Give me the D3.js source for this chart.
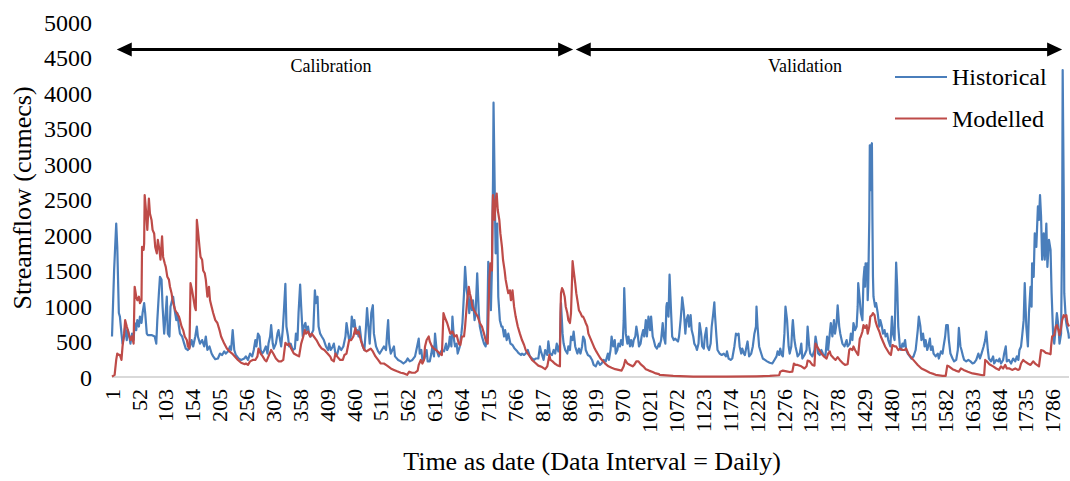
<!DOCTYPE html>
<html>
<head>
<meta charset="utf-8">
<script src="https://cdn.jsdelivr.net/npm/d3@7"></script>
<style>
  html, body { margin: 0; padding: 0; background: #ffffff; }
  svg { display: block; }
  svg text { font-family: "Liberation Serif", "Times New Roman", serif !important; fill: #000000; }
</style>
</head>
<body>
<svg id="chart" width="1070" height="481"></svg>
<script>
// Daily streamflow (cumecs): [day, flow]
const historical = [
  [1,570],[5,1500],[9,2160],[11,1830],[14,900],[16,850],[19,610],[21,470],[24,570],[26,710],[29,520],[31,660],[34,570],[36,470],[39,610],[42,520],[44,760],[47,660],[49,800],[52,710],[54,850],[57,760],[59,900],[62,1040],[64,900],[67,610],[69,590],[76,590],[82,570],[85,470],[87,800],[90,1180],[92,1410],[95,1370],[97,990],[100,610],[102,800],[105,1130],[107,610],[110,570],[112,990],[115,1080],[117,1130],[120,940],[123,800],[125,900],[128,710],[130,610],[134,570],[138,470],[141,400],[145,380],[149,430],[152,520],[155,430],[159,570],[162,710],[164,570],[168,470],[172,520],[176,430],[179,570],[182,380],[186,430],[190,330],[193,290],[197,250],[202,260],[206,330],[210,310],[214,360],[217,330],[221,360],[225,430],[227,380],[230,660],[233,380],[236,310],[241,260],[246,240],[252,260],
  [255,290],[259,240],[263,330],[267,290],[270,380],[273,520],[275,430],[278,610],[281,570],[283,380],[286,330],[289,360],[293,430],[296,330],[298,470],[301,570],[303,730],[306,470],[308,400],[312,470],[315,610],[317,660],[320,520],[322,430],[325,660],[327,900],[330,1310],[332,710],[335,570],[337,430],[340,470],[344,380],[348,400],[350,610],[353,520],[355,900],[358,1300],[360,990],[363,570],[365,710],[368,760],[370,660],[373,710],[375,610],[378,570],[380,610],[383,660],[386,1220],[388,1040],[391,1130],[393,710],[396,610],[399,570],[403,520],[407,430],[411,380],[413,470],[416,380],[420,430],[422,470],[425,330],[428,310],[432,430],[436,380],[440,430],[444,570],[446,760],[449,610],[451,520],[454,570],[456,850],[459,710],[461,800],[464,610],[466,660],[469,570],[471,710],[474,520],[477,430],[480,380],[483,710],[485,970],[488,660],[490,470],[493,900],[496,1010],[498,610],[502,430],[506,360],[509,330],[513,380],
  [517,430],[521,380],[523,610],[525,800],[527,470],[530,330],[533,380],[536,430],[538,290],[544,240],[549,220],[554,190],[559,220],[562,260],[566,220],[571,240],[576,290],[580,430],[583,540],[585,330],[588,380],[590,240],[594,260],[598,380],[600,220],[604,220],[607,330],[609,430],[612,290],[614,610],[617,380],[621,290],[623,330],[627,380],[631,360],[635,470],[637,380],[640,430],[642,570],[645,430],[647,850],[650,520],[652,430],[655,470],[657,330],[661,430],[664,610],[666,760],[669,1180],[671,1550],[674,1220],[676,1130],[679,900],[681,1130],[684,940],[686,1080],[689,800],[691,900],[694,1460],[697,900],[699,710],[703,570],[707,470],[710,430],[713,610],[715,1620],[718,1460],[720,940],[722,1550],[724,2770],[725,3860],[727,2770],[728,2210],[729,1740],[732,2160],[734,1130],[737,800],[740,710],[742,710],[745,570],[747,660],[750,520],[753,610],[757,470],[761,450],[765,400],[769,370],[772,340],[777,310],
  [779,330],[783,310],[786,330],[790,380],[794,290],[798,260],[802,240],[805,260],[810,260],[813,430],[815,360],[818,290],[820,240],[823,380],[827,310],[829,500],[832,330],[836,310],[839,380],[842,330],[845,470],[848,360],[851,470],[853,1040],[856,610],[858,470],[861,380],[865,330],[867,430],[870,380],[872,570],[875,520],[877,640],[880,430],[884,330],[887,400],[890,330],[893,430],[895,570],[898,520],[900,380],[904,310],[908,290],[912,240],[915,170],[919,150],[923,220],[927,170],[930,190],[934,240],[938,220],[942,330],[944,240],[947,380],[949,570],[952,430],[955,520],[957,330],[960,380],[962,470],[965,430],[967,520],[970,450],[972,800],[973,1250],[976,610],[979,470],[981,570],[984,430],[986,520],[989,430],[991,520],[994,570],[996,710],[999,570],[1001,430],[1004,470],[1006,570],[1009,660],[1011,570],[1014,800],[1016,570],[1019,850],[1022,660],[1024,850],[1027,570],[1029,520],[1032,430],[1035,400],[1039,470],
  [1040,430],[1043,520],[1046,760],[1048,570],[1051,470],[1053,990],[1054,1040],[1057,850],[1059,1440],[1062,900],[1064,570],[1067,520],[1070,540],[1072,520],[1075,500],[1077,570],[1080,800],[1082,990],[1083,1120],[1086,940],[1089,610],[1091,800],[1094,870],[1096,710],[1099,870],[1101,660],[1104,570],[1106,470],[1109,430],[1111,380],[1114,470],[1116,760],[1119,610],[1121,430],[1124,400],[1126,570],[1129,690],[1131,430],[1134,380],[1137,470],[1139,710],[1142,900],[1144,1050],[1145,900],[1148,570],[1150,380],[1154,330],[1158,310],[1162,330],[1166,290],[1168,360],[1171,260],[1175,240],[1178,260],[1182,430],[1185,610],[1187,590],[1190,610],[1192,430],[1195,330],[1197,400],[1200,330],[1202,310],[1205,430],[1207,500],[1210,290],[1214,330],[1217,430],[1220,610],[1223,710],[1224,990],[1226,710],[1229,430],[1233,330],[1236,260],[1240,240],[1244,220],[1249,200],[1254,190],[1258,240],[1262,290],[1264,360],[1267,310],[1269,400],[1272,310],[1274,290],[1277,610],[1279,990],[1282,800],[1285,430],[1287,330],[1290,430],[1292,710],[1293,800],[1296,520],[1298,430],[1301,330],
  [1302,290],[1306,330],[1309,470],[1311,260],[1315,310],[1319,380],[1321,710],[1324,430],[1326,330],[1330,290],[1334,380],[1336,570],[1339,430],[1341,330],[1344,310],[1347,380],[1350,330],[1353,290],[1355,310],[1358,570],[1360,380],[1363,610],[1365,760],[1368,570],[1371,800],[1373,610],[1376,760],[1378,1010],[1381,710],[1383,610],[1387,470],[1391,430],[1395,520],[1397,430],[1401,470],[1403,610],[1406,520],[1408,760],[1411,660],[1414,710],[1416,990],[1417,1320],[1420,1080],[1422,900],[1425,800],[1427,1370],[1429,1550],[1430,1270],[1431,1600],[1433,1410],[1434,1600],[1435,1080],[1436,1270],[1438,2210],[1439,3260],[1440,2630],[1441,3240],[1443,3290],[1444,2210],[1445,1410],[1446,1130],[1449,990],[1451,1040],[1454,900],[1457,710],[1459,800],[1462,710],[1464,610],[1467,660],[1469,570],[1472,610],[1474,520],[1478,430],[1481,850],[1483,610],[1486,520],[1488,1270],[1489,1610],[1491,1270],[1493,710],[1496,430],[1498,380],[1501,470],[1503,430],[1506,520],[1508,380],[1511,330],[1515,290],[1518,260],[1522,290],[1526,380],[1530,660],[1532,850],[1535,710],[1537,520],[1540,610],[1543,430],[1545,520],[1548,380],[1550,430],[1553,540],[1555,380],[1558,430],[1560,330],
  [1564,290],[1568,330],[1570,260],[1574,360],[1577,330],[1579,430],[1582,570],[1584,730],[1587,730],[1589,520],[1592,330],[1596,260],[1599,220],[1603,240],[1606,380],[1608,690],[1611,430],[1613,380],[1616,290],[1618,240],[1622,220],[1626,240],[1630,220],[1634,190],[1637,200],[1641,240],[1645,330],[1648,260],[1651,330],[1655,430],[1658,520],[1660,640],[1663,380],[1665,260],[1669,220],[1673,290],[1675,190],[1679,240],[1683,220],[1685,260],[1688,190],[1692,240],[1694,330],[1697,430],[1699,220],[1703,240],[1707,190],[1711,260],[1715,220],[1718,290],[1721,240],[1723,380],[1726,430],[1728,570],[1731,800],[1733,1320],[1736,710],[1739,430],[1741,900],[1744,1270],[1746,990],[1747,1600],[1750,1410],[1752,2020],[1755,1830],[1758,2400],[1760,2210],[1762,2560],[1764,2260],[1766,1650],[1769,2020],[1771,1650],[1774,2160],[1776,1550],[1779,1930],[1782,1790],[1784,1180],[1787,570],[1789,470],[1792,710],[1794,900],[1797,710],[1799,470],[1802,610],[1804,2120],[1805,4320],[1807,2580],[1808,1180],[1811,800],[1813,710],[1816,610],[1817,540]
];

const modelled = [
  [1,5],[6,30],[9,240],[11,330],[14,310],[16,310],[19,240],[21,430],[24,610],[26,800],[29,710],[31,660],[34,570],[36,520],[39,570],[42,470],[44,1270],[47,1130],[49,1080],[52,1130],[54,1040],[57,1080],[58,1830],[61,1790],[62,1880],[63,2560],[66,2300],[68,2070],[71,2510],[73,2300],[76,2210],[78,2070],[81,2020],[83,1830],[86,1740],[88,1930],[91,1790],[93,1650],[96,1980],[98,1690],[101,1600],[103,1550],[106,1410],[109,1370],[111,1270],[114,1180],[116,1080],[119,990],[121,940],[124,900],[128,850],[130,800],[133,710],[136,660],[139,570],[143,520],[145,430],[148,400],[150,1320],[153,1220],[155,1130],[158,990],[160,940],[162,2210],[164,2070],[167,1830],[169,1690],[172,1650],[174,1500],[177,1460],[179,1370],[182,1130],[185,1270],[187,1080],[190,990],[193,900],[197,800],[201,760],[205,660],[208,570],[214,470],[219,400],[224,360],[229,330],[234,290],[240,240],[246,200],[253,180],
  [255,190],[259,170],[263,220],[268,240],[273,240],[277,290],[279,400],[283,330],[287,290],[291,240],[294,220],[298,290],[303,380],[307,330],[312,260],[317,220],[322,220],[326,240],[330,480],[334,450],[337,470],[341,400],[346,330],[351,310],[356,290],[360,470],[364,570],[367,660],[369,610],[373,640],[377,570],[380,610],[384,570],[389,520],[394,450],[399,400],[404,380],[410,330],[415,290],[418,240],[422,220],[425,330],[428,290],[434,240],[439,240],[442,310],[446,330],[451,520],[455,520],[459,570],[463,690],[465,610],[469,640],[473,520],[477,430],[480,380],[484,360],[488,380],[492,400],[496,360],[501,290],[506,240],[511,190],
  [517,190],[523,160],[530,120],[536,100],[542,80],[549,60],[555,50],[561,30],[565,75],[570,60],[576,60],[581,90],[583,170],[587,240],[590,190],[593,240],[595,430],[598,520],[602,570],[604,500],[608,430],[612,400],[616,380],[619,360],[623,330],[627,310],[630,900],[633,830],[637,760],[641,660],[643,610],[647,640],[651,570],[655,590],[659,470],[662,450],[665,570],[669,570],[671,710],[675,1080],[678,1270],[680,1180],[683,1080],[685,990],[688,940],[691,900],[695,850],[699,760],[703,710],[707,610],[710,520],[714,470],[717,1370],[719,1600],[722,1500],[723,2300],[724,2560],[727,2210],[729,2490],[731,2580],[733,2350],[736,2210],[738,2020],[741,1830],[743,1650],[746,1500],[748,1370],[751,1250],[753,1180],[756,1220],[758,1080],[761,1220],[764,990],[767,850],[771,710],[775,610],
  [779,520],[783,450],[786,380],[790,330],[794,290],[798,240],[804,200],[810,160],[817,140],[823,110],[827,150],[831,310],[833,240],[837,220],[841,190],[845,170],[848,160],[851,150],[852,900],[853,1180],[855,1250],[857,1220],[860,1130],[862,990],[865,900],[867,800],[870,760],[872,900],[874,1370],[875,1630],[877,1500],[880,1320],[882,1180],[885,1040],[887,940],[890,900],[893,850],[895,850],[898,800],[900,760],[903,710],[905,610],[909,540],[913,470],[917,400],[920,360],[924,310],[928,260],[933,220],[938,180],[943,150],[949,130],[956,110],[962,100],[968,90],[972,150],[975,240],[979,190],[984,170],[989,150],[992,170],[996,220],[1000,220],[1004,180],[1009,150],[1014,110],[1020,90],[1027,70],[1033,50],[1039,40],
  [1040,30],[1066,15],[1104,5],[1167,5],[1224,10],[1249,15],[1267,25],[1269,75],[1274,90],[1281,80],[1287,70],[1292,75],[1295,190],[1298,170],
  [1302,170],[1309,150],[1315,120],[1319,150],[1321,230],[1325,220],[1330,170],[1334,160],[1336,470],[1339,430],[1343,380],[1347,330],[1352,290],[1357,260],[1360,330],[1363,360],[1365,310],[1371,260],[1374,240],[1378,280],[1382,240],[1387,200],[1392,170],[1397,180],[1400,380],[1402,400],[1406,380],[1408,430],[1411,380],[1415,330],[1417,310],[1420,540],[1422,570],[1425,640],[1427,730],[1430,690],[1433,730],[1435,610],[1438,710],[1440,850],[1443,870],[1445,900],[1448,870],[1450,780],[1453,710],[1457,640],[1460,570],[1464,500],[1468,430],[1472,380],[1476,330],[1479,310],[1482,450],[1486,430],[1489,430],[1493,380],[1497,400],[1501,380],[1505,380],[1508,400],[1512,330],[1517,280],[1524,220],[1530,170],[1537,120],[1545,90],[1553,60],[1561,40],
  [1564,30],[1577,15],[1583,15],[1586,160],[1589,150],[1596,110],[1602,90],[1608,75],[1612,120],[1617,100],[1625,75],[1634,50],[1642,40],[1653,25],[1656,25],[1658,240],[1661,220],[1666,180],[1673,150],[1679,120],[1684,100],[1688,150],[1692,120],[1696,170],[1699,120],[1704,120],[1709,100],[1715,120],[1720,100],[1723,110],[1726,190],[1730,240],[1733,220],[1739,190],[1744,170],[1749,220],[1754,180],[1760,150],[1764,380],[1768,370],[1773,340],[1778,330],[1782,320],[1783,430],[1785,570],[1789,590],[1792,710],[1794,730],[1797,660],[1799,590],[1802,690],[1804,800],[1807,870],[1809,850],[1812,870],[1814,760],[1817,710]
];

const dayTicks = [1,52,103,154,205,256,307,358,409,460,511,562,613,664,715,766,817,868,919,970,1021,1072,1123,1174,1225,1276,1327,1378,1429,1480,1531,1582,1633,1684,1735,1786];
const flowTicks = [0,500,1000,1500,2000,2500,3000,3500,4000,4500,5000];
const seriesNames = ["Historical", "Modelled"];
const periodNames = ["Calibration", "Validation"];
const periodStart = [10, 881];
const periodEnd = [876, 1804];
const lastDay = 1817;

const colors = ["#4A7EBB", "#BE4B48"];
const svg = d3.select("#chart");

svg.append("rect").attr("width", 1070).attr("height", 481).attr("fill", "#ffffff");

const x = d3.scaleLinear().domain([1, lastDay]).range([112, 1069]);
const y = d3.scaleLinear().domain([0, 5000]).range([377, 21.7]);

// value axis labels (no axis line)
const yAxis = d3.axisLeft(y).tickValues(flowTicks).tickSize(0).tickPadding(0).tickFormat(d3.format("d"));
const gy = svg.append("g").attr("transform", "translate(92,0)").call(yAxis);
gy.attr("font-family", null).attr("font-size", null);
gy.select(".domain").remove();
gy.selectAll("text").style("font-size", "24px").attr("dy", "0.35em");

// category axis line
svg.append("line")
  .attr("x1", x(1)).attr("x2", x(lastDay))
  .attr("y1", y(0)).attr("y2", y(0))
  .attr("stroke", "#d9d9d9").attr("stroke-width", 2);

// rotated day labels
svg.append("g").selectAll("text").data(dayTicks).join("text")
  .attr("transform", d => `translate(${x(d)},389) rotate(-90)`)
  .attr("text-anchor", "end").attr("dy", "0.35em")
  .style("font-size", "22px")
  .text(d => d);

// series lines
const line = d3.line().x(d => x(d[0])).y(d => y(d[1]));
[historical, modelled].forEach((s, i) => {
  svg.append("path").datum(s)
    .attr("d", line).attr("fill", "none")
    .attr("stroke", colors[i]).attr("stroke-width", 2.2)
    .attr("stroke-linejoin", "round");
});

// period arrows
const arrowY = 49.5, headLen = 15, headHalf = 7;
periodNames.forEach((name, i) => {
  const x0 = x(periodStart[i]), x1 = x(periodEnd[i]);
  const g = svg.append("g");
  g.append("line").attr("x1", x0 + headLen - 1).attr("x2", x1 - headLen + 1)
    .attr("y1", arrowY).attr("y2", arrowY).attr("stroke", "#000").attr("stroke-width", 3);
  g.append("path").attr("fill", "#000")
    .attr("d", `M${x0},${arrowY}L${x0 + headLen},${arrowY - headHalf}L${x0 + headLen},${arrowY + headHalf}Z`);
  g.append("path").attr("fill", "#000")
    .attr("d", `M${x1},${arrowY}L${x1 - headLen},${arrowY - headHalf}L${x1 - headLen},${arrowY + headHalf}Z`);
  g.append("text").attr("x", (x0 + x1) / 2 - 14).attr("y", 72)
    .attr("text-anchor", "middle").style("font-size", "18px")
    .text(name);
});

// legend
const legendRows = [77, 118.5];
seriesNames.forEach((name, i) => {
  svg.append("line").attr("x1", 895).attr("x2", 947)
    .attr("y1", legendRows[i]).attr("y2", legendRows[i])
    .attr("stroke", colors[i]).attr("stroke-width", 2.2);
  svg.append("text").attr("x", 952).attr("y", legendRows[i] + 8)
    .style("font-size", "24px").text(name);
});

// axis titles
svg.append("text")
  .attr("transform", "translate(31,198) rotate(-90)")
  .attr("text-anchor", "middle").style("font-size", "26px")
  .text("Streamflow (cumecs)");
svg.append("text")
  .attr("x", 592).attr("y", 470)
  .attr("text-anchor", "middle").style("font-size", "26px")
  .text("Time as date (Data Interval = Daily)");
</script>
</body>
</html>
